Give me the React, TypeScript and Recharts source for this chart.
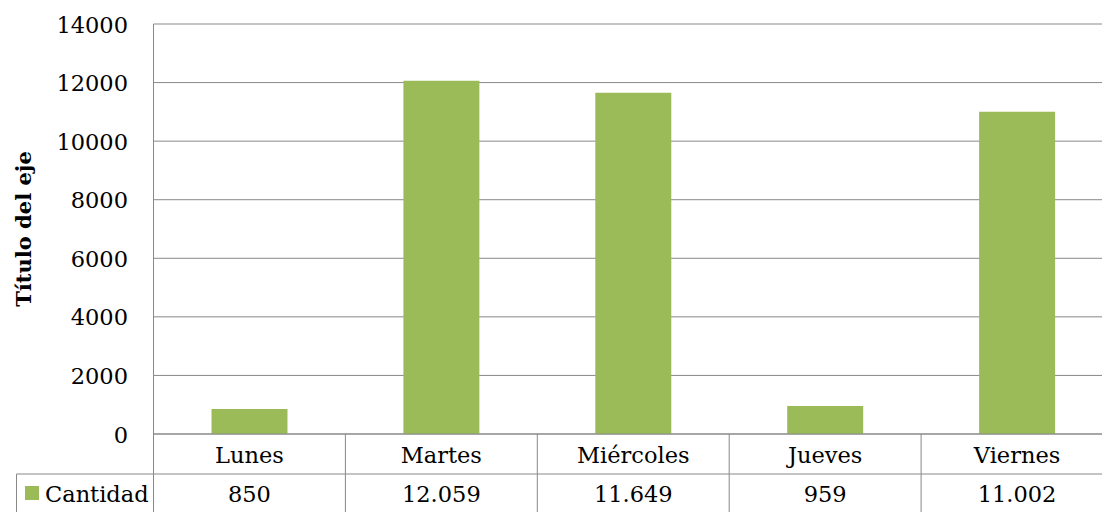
import React from "react";
import { BarChart, Bar, XAxis, YAxis, CartesianGrid } from "recharts";

const categories = ["Lunes", "Martes", "Miércoles", "Jueves", "Viernes"];
const cantidad = [850, 12059, 11649, 959, 11002];
const yTicks = [0, 2000, 4000, 6000, 8000, 10000, 12000, 14000];
const seriesName = "Cantidad";
const axisTitle = "Título del eje";

const data = categories.map((day, i) => ({ day, cantidad: cantidad[i] }));

// Excel-like look: Cambria is not installed, DejaVu Serif is the closest fit
const FONT = "'DejaVu Serif', serif";
const GREEN = "#9bbb59";
const LINE = "#898989";

const W = 1113;
const H = 512;
const PLOT_LEFT = 153.5;
const PLOT_TOP = 24;
const PLOT_BOTTOM = 434;
const ROW_SPLIT = 474;
const BAND = (W - PLOT_LEFT) / categories.length;

// es-ES style thousands separator
const fmt = (n: number) => String(n).replace(/\B(?=(\d{3})+(?!\d))/g, ".");

function YTick({ y, payload }: any) {
  return (
    <text x={128} y={y + 8.5} textAnchor="end" fontFamily={FONT} fontSize={22.5} fill="#000">
      {payload.value}
    </text>
  );
}

// each x tick draws its own column of the data table under the plot
function TableTick({ x, payload }: any) {
  const i = payload.index;
  const left = x - BAND / 2;
  const right = x + BAND / 2;
  return (
    <g>
      <line x1={right} y1={PLOT_BOTTOM} x2={right} y2={H} stroke={LINE} />
      <line x1={left} y1={ROW_SPLIT} x2={right} y2={ROW_SPLIT} stroke={LINE} />
      <text x={x} y={463} textAnchor="middle" fontFamily={FONT} fontSize={22.5} fill="#000">
        {payload.value}
      </text>
      <text x={x} y={502} textAnchor="middle" fontFamily={FONT} fontSize={22.5} fill="#000">
        {fmt(cantidad[i])}
      </text>
    </g>
  );
}

function AxisTitle() {
  return (
    <g>
      <text
        x={31}
        y={229}
        transform="rotate(-90, 31, 229)"
        textAnchor="middle"
        fontFamily={FONT}
        fontWeight="bold"
        fontSize={21}
        fill="#000"
      >
        {axisTitle}
      </text>
      {/* legend cell of the data table */}
      <line x1={PLOT_LEFT} y1={PLOT_BOTTOM} x2={PLOT_LEFT} y2={H} stroke={LINE} />
      <line x1={16.5} y1={ROW_SPLIT} x2={PLOT_LEFT} y2={ROW_SPLIT} stroke={LINE} />
      <line x1={16.5} y1={ROW_SPLIT} x2={16.5} y2={H} stroke={LINE} />
      <rect x={25} y={486} width={14} height={14} fill={GREEN} />
      <text x={45} y={502} fontFamily={FONT} fontSize={22.5} fill="#000">
        {seriesName}
      </text>
    </g>
  );
}

export default function App() {
  return (
    <div style={{ position: "fixed", left: 0, top: 0, width: 1102, height: H, overflow: "hidden", background: "#fff" }}>
      <BarChart
        width={W}
        height={H}
        data={data}
        margin={{ top: PLOT_TOP, right: 0, bottom: 0, left: 0 }}
        barSize={76}
      >
        <CartesianGrid vertical={false} stroke={LINE} />
        <YAxis
          width={PLOT_LEFT}
          domain={[0, 14000]}
          ticks={yTicks}
          interval={0}
          tickLine={false}
          axisLine={{ stroke: LINE }}
          tick={<YTick />}
          label={<AxisTitle />}
        />
        <XAxis
          dataKey="day"
          height={H - PLOT_BOTTOM}
          interval={0}
          tickLine={false}
          axisLine={{ stroke: LINE }}
          tick={<TableTick />}
        />
        <Bar dataKey="cantidad" fill={GREEN} isAnimationActive={false} />
      </BarChart>
    </div>
  );
}
